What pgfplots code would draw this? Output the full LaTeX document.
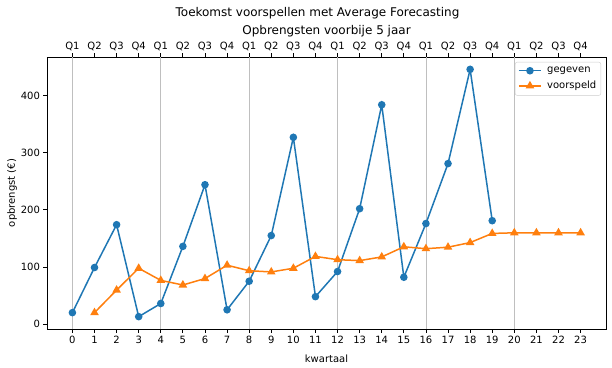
\documentclass[border=0pt]{standalone}
\usepackage{pgfplots}
\pgfplotsset{compat=1.18}
\usepackage{fontspec}
\setmainfont{DejaVu Sans}
\definecolor{cA}{HTML}{1F77B4}
\definecolor{cB}{HTML}{FF7F0E}
\begin{document}
\fontsize{10}{12}\selectfont
\begin{tikzpicture}
\pgfplotsset{
  common/.style={
    scale only axis, width=559pt, height=272pt,
    xmin=-1.15, xmax=24.15, ymin=-8.65, ymax=467.65,
    tick align=outside, major tick length=3.5pt,
    tick style={black, line width=0.8pt},
    axis line style={line width=0.8pt},
    /pgf/number format/assume math mode=true,
    tick label style={font=\fontsize{10}{12}\selectfont},
    label style={font=\fontsize{10}{12}\selectfont},
  }
}
\begin{axis}[common,
  axis x line*=top, axis y line=none,
  xtick={0,...,23},
  xticklabels={Q1,Q2,Q3,Q4,Q1,Q2,Q3,Q4,Q1,Q2,Q3,Q4,Q1,Q2,Q3,Q4,Q1,Q2,Q3,Q4,Q1,Q2,Q3,Q4},
  xticklabel pos=upper,
  xticklabel style={yshift=-1pt},
]
\end{axis}
\begin{axis}[common, name=main,
  xtick={0,...,23}, ytick={0,100,...,400},
  xtick pos=lower, ytick pos=left,
  extra x ticks={0,4,...,20}, extra x tick labels={},
  extra x tick style={grid=major, major grid style={color=black!25, line width=0.8pt}},
  xlabel={kwartaal}, ylabel={opbrengst (€)},
  xlabel style={yshift=3pt}, ylabel style={yshift=-3pt},
  legend style={font=\fontsize{10}{12}\selectfont, draw=black!20, rounded corners=2pt, at={([xshift=-5pt,yshift=-5pt]rel axis cs:1,1)}, anchor=north east, inner xsep=3pt, inner ysep=3.5pt, row sep=4pt, nodes={inner sep=1.5pt}, /tikz/every odd column/.append style={column sep=4pt}},
  legend cell align=left,
  legend image code/.code={\draw[mark repeat=2,mark phase=2] plot coordinates {(0pt,0pt) (11pt,0pt) (22pt,0pt)};},
]
\addplot[cA, line width=1.5pt, mark=*, mark size=3pt, mark options={solid}] coordinates {
(0,20) (1,99) (2,174) (3,13) (4,36) (5,136) (6,244) (7,25) (8,75) (9,155)
(10,327) (11,48) (12,92) (13,202) (14,384) (15,82) (16,176) (17,281) (18,446) (19,181)
};
\addlegendentry{gegeven}
\addplot[cB, line width=1.5pt, mark=triangle*, mark size=3.5pt, mark options={solid}] coordinates {
(1,20) (2,59.5) (3,97.7) (4,76.5) (5,68.4) (6,79.7) (7,103.1) (8,93.4) (9,91.3) (10,97.7)
(11,118.5) (12,112.7) (13,111.1) (14,117.6) (15,135.3) (16,132.0) (17,134.6) (18,142.7) (19,158.7)
(20,159.8) (21,159.8) (22,159.8) (23,159.8)
};
\addlegendentry{voorspeld}
\end{axis}
\node[font=\fontsize{12}{14}\selectfont] at ([yshift=26pt]main.north) {Opbrengsten voorbije 5 jaar};
\node[font=\fontsize{12}{14}\selectfont] at ([yshift=44pt, xshift=-9pt]main.north) {Toekomst voorspellen met Average Forecasting};
\pgfresetboundingbox
\path ([xshift=-47pt, yshift=-38pt]main.south west) rectangle ([xshift=6pt, yshift=57pt]main.north east);
\end{tikzpicture}
\end{document}
